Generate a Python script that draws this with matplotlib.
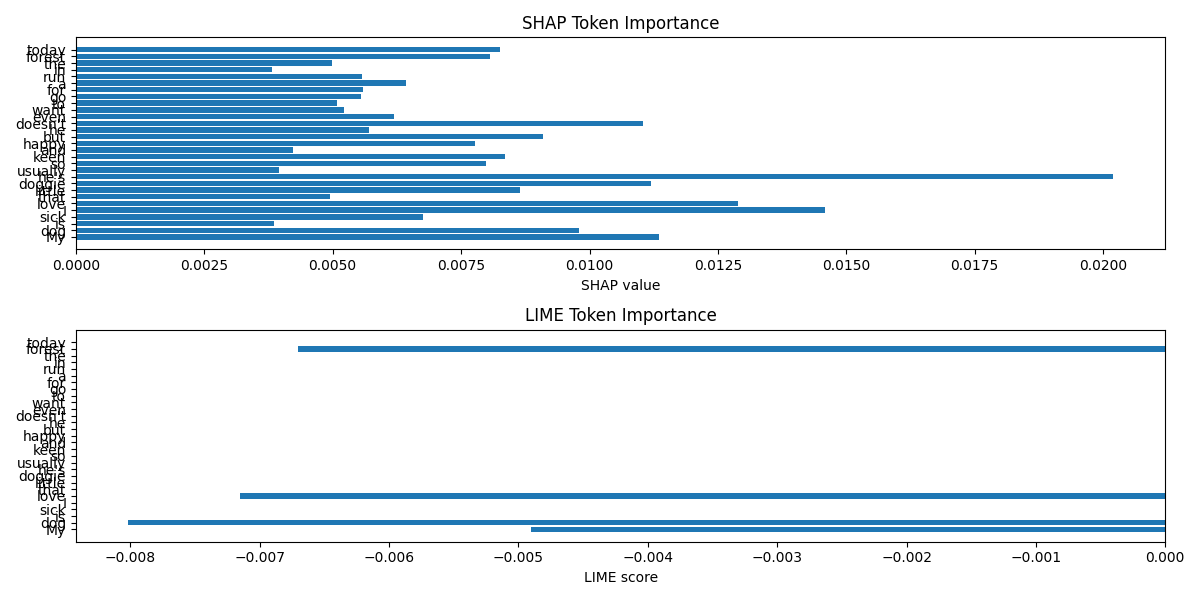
import matplotlib.pyplot as plt

tokens = ["My", "dog", "is", "sick", "I", "love", "that", "little", "doggie", "he's",
          "usually", "so", "keen", "and", "happy", "but", "he", "doesn't", "even", "want",
          "to", "go", "for", "a", "run", "in", "the", "forest", "today"]
shap_vals = [0.01135, 0.0098, 0.00385, 0.00675, 0.01458, 0.0129, 0.00495, 0.00865, 0.0112, 0.0202,
             0.00395, 0.00798, 0.00835, 0.00422, 0.00777, 0.0091, 0.0057, 0.01105, 0.0062, 0.00522,
             0.00508, 0.00555, 0.0056, 0.00643, 0.00557, 0.00382, 0.00498, 0.00806, 0.00825]
lime_vals = [0.0] * len(tokens)
lime_vals[0] = -0.0049
lime_vals[1] = -0.00802
lime_vals[5] = -0.00715
lime_vals[27] = -0.0067

fig, (ax1, ax2) = plt.subplots(2, 1, figsize=(12, 6))

ax1.barh(tokens, shap_vals)
ax1.set_title("SHAP Token Importance")
ax1.set_xlabel("SHAP value")

ax2.barh(tokens, lime_vals)
ax2.set_title("LIME Token Importance")
ax2.set_xlabel("LIME score")
ax2.set_xlim(-0.00842, 0)

plt.tight_layout()
plt.savefig("out.png", dpi=100)
